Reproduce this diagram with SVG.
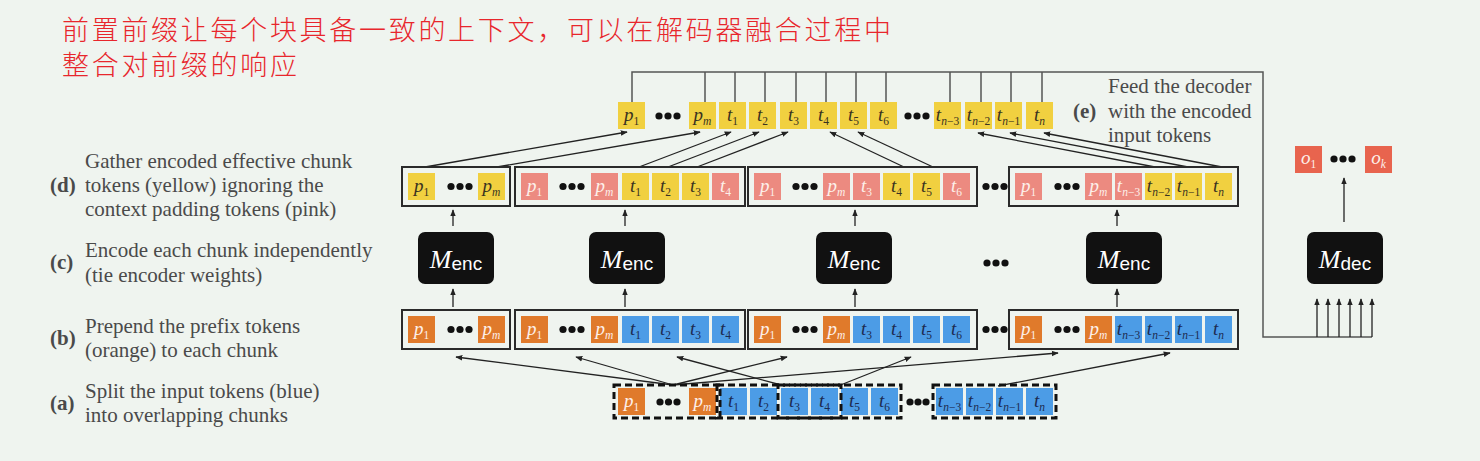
<svg xmlns="http://www.w3.org/2000/svg" width="1480" height="461" viewBox="0 0 1480 461">
<style>
.tk{font-family:"Liberation Serif",serif;font-size:19px;font-style:italic;text-anchor:middle}
.sb{font-size:11.5px;font-style:normal}
.si{font-style:italic}
.dk{fill:#3a3320}.lt{fill:#fdf0ea}.nv{fill:#1c2b50}
.Y{fill:#f1d040}.P{fill:#ec8a80}.O{fill:#e07a2b}.B{fill:#4c9ce6}.R{fill:#e8644e}
.box{fill:none;stroke:#2a2a2a;stroke-width:2}
.enc{fill:#111}
.dot{fill:#111}
.brk{fill:none;stroke:#555;stroke-width:1.5}
.conn{fill:none;stroke:#222;stroke-width:1.3;marker-end:url(#ah)}
.dash{fill:none;stroke:#111;stroke-width:3;stroke-dasharray:7 4}
.lbl{font-family:"Liberation Serif",serif;font-size:21px;fill:#4a4a4a}
.bold{font-weight:bold}
.mt{font-family:"Liberation Serif",serif;font-style:italic;font-size:26px}
.st{font-family:"Liberation Sans",sans-serif;font-size:19px}
.cn{font-family:"Noto Sans CJK SC",sans-serif;font-size:27px;fill:#e8262c;letter-spacing:2.7px;font-weight:300}
</style>
<defs>
<marker id="ah" viewBox="0 0 10 10" refX="9" refY="5" markerWidth="7" markerHeight="7" orient="auto" markerUnits="userSpaceOnUse"><path d="M0,1 L10,5 L0,9 z" fill="#222"/></marker>
</defs>
<rect width="1480" height="461" fill="#eff4ef"/>

<g id="title">
<text class="cn" x="62" y="40">前置前缀让每个块具备一致的上下文，可以在解码器融合过程中</text>
<text class="cn" x="62" y="75">整合对前缀的响应</text>
</g>

<g id="labels">
<text class="lbl" x="85" y="168">Gather encoded effective chunk</text>
<text class="lbl bold" x="50" y="192">(d)</text>
<text class="lbl" x="85" y="192">tokens (yellow) ignoring the</text>
<text class="lbl" x="85" y="216">context padding tokens (pink)</text>
<text class="lbl" x="85" y="257">Encode each chunk independently</text>
<text class="lbl bold" x="50" y="269">(c)</text>
<text class="lbl" x="85" y="282">(tie encoder weights)</text>
<text class="lbl" x="85" y="333">Prepend the prefix tokens</text>
<text class="lbl bold" x="50" y="345">(b)</text>
<text class="lbl" x="85" y="357">(orange) to each chunk</text>
<text class="lbl" x="85" y="398">Split the input tokens (blue)</text>
<text class="lbl bold" x="50" y="410">(a)</text>
<text class="lbl" x="85" y="422">into overlapping chunks</text>
<text class="lbl bold" x="1073" y="118">(e)</text>
<text class="lbl" x="1108" y="93">Feed the decoder</text>
<text class="lbl" x="1108" y="118">with the encoded</text>
<text class="lbl" x="1108" y="142">input tokens</text>
</g>

<g id="connectors">
<path class="brk" d="M632,102 V72 H1263 V337 H1372"/>
<path class="brk" d="M705,72 V102 M735,72 V102 M765,72 V102 M796,72 V102 M826,72 V102 M856,72 V102 M886,72 V102 M950,72 V102 M981,72 V102 M1011,72 V102 M1042,72 V102"/>
<line class="conn" x1="1317" y1="337" x2="1317" y2="299"/>
<line class="conn" x1="1328" y1="337" x2="1328" y2="299"/>
<line class="conn" x1="1339" y1="337" x2="1339" y2="299"/>
<line class="conn" x1="1350" y1="337" x2="1350" y2="299"/>
<line class="conn" x1="1361" y1="337" x2="1361" y2="299"/>
<line class="conn" x1="1372" y1="337" x2="1372" y2="299"/>
<line class="conn" x1="1344" y1="222" x2="1344" y2="178"/>
<line class="conn" x1="425" y1="167" x2="627" y2="132"/>
<line class="conn" x1="497" y1="167" x2="700" y2="132"/>
<line class="conn" x1="639" y1="167" x2="731" y2="132"/>
<line class="conn" x1="668" y1="167" x2="759" y2="132"/>
<line class="conn" x1="697" y1="167" x2="788" y2="132"/>
<line class="conn" x1="904" y1="167" x2="830" y2="132"/>
<line class="conn" x1="933" y1="167" x2="858" y2="132"/>
<line class="conn" x1="1155" y1="167" x2="978" y2="133"/>
<line class="conn" x1="1188" y1="167" x2="1010" y2="133"/>
<line class="conn" x1="1222" y1="167" x2="1044" y2="133"/>
<line class="conn" x1="453" y1="226" x2="453" y2="210"/>
<line class="conn" x1="625" y1="226" x2="625" y2="210"/>
<line class="conn" x1="855" y1="226" x2="855" y2="210"/>
<line class="conn" x1="1117" y1="226" x2="1117" y2="210"/>
<line class="conn" x1="453" y1="307" x2="453" y2="289"/>
<line class="conn" x1="625" y1="307" x2="625" y2="289"/>
<line class="conn" x1="855" y1="307" x2="855" y2="289"/>
<line class="conn" x1="1117" y1="307" x2="1117" y2="289"/>
<line class="conn" x1="673" y1="385" x2="456" y2="357"/>
<line class="conn" x1="673" y1="385" x2="576" y2="357"/>
<line class="conn" x1="673" y1="385" x2="787" y2="357"/>
<line class="conn" x1="673" y1="385" x2="1058" y2="353"/>
<line class="conn" x1="785" y1="386" x2="677" y2="357"/>
<line class="conn" x1="838" y1="386" x2="911" y2="357"/>
<line class="conn" x1="998" y1="386" x2="1170" y2="353"/>
</g>

<g id="top-row">
<rect class="Y" x="618" y="102" width="27" height="27"/><text class="tk dk" x="631.5" y="121">p<tspan class="sb" dy="4">1</tspan></text>
<circle class="dot" cx="659" cy="116" r="3.6"/><circle class="dot" cx="668" cy="116" r="3.6"/><circle class="dot" cx="677" cy="116" r="3.6"/>
<rect class="Y" x="689" y="102" width="27" height="27"/><text class="tk dk" x="702.5" y="121">p<tspan class="sb si" dy="4">m</tspan></text>
<rect class="Y" x="719" y="102" width="27" height="27"/><text class="tk dk" x="732.5" y="121">t<tspan class="sb" dy="4">1</tspan></text>
<rect class="Y" x="749" y="102" width="27" height="27"/><text class="tk dk" x="762.5" y="121">t<tspan class="sb" dy="4">2</tspan></text>
<rect class="Y" x="780" y="102" width="27" height="27"/><text class="tk dk" x="793.5" y="121">t<tspan class="sb" dy="4">3</tspan></text>
<rect class="Y" x="810" y="102" width="27" height="27"/><text class="tk dk" x="823.5" y="121">t<tspan class="sb" dy="4">4</tspan></text>
<rect class="Y" x="840" y="102" width="27" height="27"/><text class="tk dk" x="853.5" y="121">t<tspan class="sb" dy="4">5</tspan></text>
<rect class="Y" x="870" y="102" width="27" height="27"/><text class="tk dk" x="883.5" y="121">t<tspan class="sb" dy="4">6</tspan></text>
<circle class="dot" cx="908" cy="116" r="3.6"/><circle class="dot" cx="917" cy="116" r="3.6"/><circle class="dot" cx="926" cy="116" r="3.6"/>
<rect class="Y" x="934" y="102" width="27" height="27"/><text class="tk dk" x="947.5" y="121">t<tspan class="sb" dy="4"><tspan class="si">n</tspan>−3</tspan></text>
<rect class="Y" x="965" y="102" width="27" height="27"/><text class="tk dk" x="978.5" y="121">t<tspan class="sb" dy="4"><tspan class="si">n</tspan>−2</tspan></text>
<rect class="Y" x="995" y="102" width="27" height="27"/><text class="tk dk" x="1008.5" y="121">t<tspan class="sb" dy="4"><tspan class="si">n</tspan>−1</tspan></text>
<rect class="Y" x="1026" y="102" width="27" height="27"/><text class="tk dk" x="1039.5" y="121">t<tspan class="sb si" dy="4">n</tspan></text>
</g>

<g id="row-d">
<rect class="box" x="402" y="167" width="108" height="39"/>
<rect class="Y" x="408" y="173" width="27" height="27"/><text class="tk dk" x="421.5" y="192">p<tspan class="sb" dy="4">1</tspan></text>
<circle class="dot" cx="451" cy="186.5" r="3.6"/><circle class="dot" cx="460" cy="186.5" r="3.6"/><circle class="dot" cx="469" cy="186.5" r="3.6"/>
<rect class="Y" x="478" y="173" width="27" height="27"/><text class="tk dk" x="491.5" y="192">p<tspan class="sb si" dy="4">m</tspan></text>

<rect class="box" x="515" y="167" width="230" height="39"/>
<rect class="P" x="521" y="173" width="27" height="27"/><text class="tk lt" x="534.5" y="192">p<tspan class="sb" dy="4">1</tspan></text>
<circle class="dot" cx="563" cy="186.5" r="3.6"/><circle class="dot" cx="572" cy="186.5" r="3.6"/><circle class="dot" cx="581" cy="186.5" r="3.6"/>
<rect class="P" x="591" y="173" width="27" height="27"/><text class="tk lt" x="604.5" y="192">p<tspan class="sb si" dy="4">m</tspan></text>
<rect class="Y" x="622" y="173" width="27" height="27"/><text class="tk dk" x="635.5" y="192">t<tspan class="sb" dy="4">1</tspan></text>
<rect class="Y" x="652" y="173" width="27" height="27"/><text class="tk dk" x="665.5" y="192">t<tspan class="sb" dy="4">2</tspan></text>
<rect class="Y" x="682" y="173" width="27" height="27"/><text class="tk dk" x="695.5" y="192">t<tspan class="sb" dy="4">3</tspan></text>
<rect class="P" x="712" y="173" width="27" height="27"/><text class="tk lt" x="725.5" y="192">t<tspan class="sb" dy="4">4</tspan></text>

<rect class="box" x="748" y="167" width="229" height="39"/>
<rect class="P" x="754" y="173" width="27" height="27"/><text class="tk lt" x="767.5" y="192">p<tspan class="sb" dy="4">1</tspan></text>
<circle class="dot" cx="796" cy="186.5" r="3.6"/><circle class="dot" cx="805" cy="186.5" r="3.6"/><circle class="dot" cx="814" cy="186.5" r="3.6"/>
<rect class="P" x="823" y="173" width="27" height="27"/><text class="tk lt" x="836.5" y="192">p<tspan class="sb si" dy="4">m</tspan></text>
<rect class="P" x="853" y="173" width="27" height="27"/><text class="tk lt" x="866.5" y="192">t<tspan class="sb" dy="4">3</tspan></text>
<rect class="Y" x="883" y="173" width="27" height="27"/><text class="tk dk" x="896.5" y="192">t<tspan class="sb" dy="4">4</tspan></text>
<rect class="Y" x="913" y="173" width="27" height="27"/><text class="tk dk" x="926.5" y="192">t<tspan class="sb" dy="4">5</tspan></text>
<rect class="P" x="943" y="173" width="27" height="27"/><text class="tk lt" x="956.5" y="192">t<tspan class="sb" dy="4">6</tspan></text>

<circle class="dot" cx="986" cy="186.5" r="3.6"/><circle class="dot" cx="995" cy="186.5" r="3.6"/><circle class="dot" cx="1004" cy="186.5" r="3.6"/>

<rect class="box" x="1009" y="167" width="229" height="39"/>
<rect class="P" x="1015" y="173" width="27" height="27"/><text class="tk lt" x="1028.5" y="192">p<tspan class="sb" dy="4">1</tspan></text>
<circle class="dot" cx="1058" cy="186.5" r="3.6"/><circle class="dot" cx="1067" cy="186.5" r="3.6"/><circle class="dot" cx="1076" cy="186.5" r="3.6"/>
<rect class="P" x="1085" y="173" width="27" height="27"/><text class="tk lt" x="1098.5" y="192">p<tspan class="sb si" dy="4">m</tspan></text>
<rect class="P" x="1115" y="173" width="27" height="27"/><text class="tk lt" x="1128.5" y="192">t<tspan class="sb" dy="4"><tspan class="si">n</tspan>−3</tspan></text>
<rect class="Y" x="1145" y="173" width="27" height="27"/><text class="tk dk" x="1158.5" y="192">t<tspan class="sb" dy="4"><tspan class="si">n</tspan>−2</tspan></text>
<rect class="Y" x="1175" y="173" width="27" height="27"/><text class="tk dk" x="1188.5" y="192">t<tspan class="sb" dy="4"><tspan class="si">n</tspan>−1</tspan></text>
<rect class="Y" x="1205" y="173" width="27" height="27"/><text class="tk dk" x="1218.5" y="192">t<tspan class="sb si" dy="4">n</tspan></text>
</g>

<g id="encoders">
<rect class="enc" x="418" y="232" width="76" height="52" rx="7"/><text x="456" y="268" text-anchor="middle" fill="#fff"><tspan class="mt">M</tspan><tspan class="st" dy="2">enc</tspan></text>
<rect class="enc" x="589" y="232" width="76" height="52" rx="7"/><text x="627" y="268" text-anchor="middle" fill="#fff"><tspan class="mt">M</tspan><tspan class="st" dy="2">enc</tspan></text>
<rect class="enc" x="816" y="232" width="76" height="52" rx="7"/><text x="854" y="268" text-anchor="middle" fill="#fff"><tspan class="mt">M</tspan><tspan class="st" dy="2">enc</tspan></text>
<circle class="dot" cx="987" cy="263" r="3.6"/><circle class="dot" cx="996" cy="263" r="3.6"/><circle class="dot" cx="1005" cy="263" r="3.6"/>
<rect class="enc" x="1086" y="232" width="76" height="52" rx="7"/><text x="1124" y="268" text-anchor="middle" fill="#fff"><tspan class="mt">M</tspan><tspan class="st" dy="2">enc</tspan></text>
</g>

<g id="decoder">
<rect class="enc" x="1307" y="232" width="76" height="52" rx="7"/><text x="1345" y="268" text-anchor="middle" fill="#fff"><tspan class="mt">M</tspan><tspan class="st" dy="2">dec</tspan></text>
</g>

<g id="outputs">
<rect class="R" x="1295" y="146" width="27" height="27"/><text class="tk lt" x="1308.5" y="164">o<tspan class="sb" dy="4">1</tspan></text>
<circle class="dot" cx="1334" cy="159" r="3.6"/><circle class="dot" cx="1343" cy="159" r="3.6"/><circle class="dot" cx="1352" cy="159" r="3.6"/>
<rect class="R" x="1365" y="146" width="27" height="27"/><text class="tk lt" x="1378.5" y="164">o<tspan class="sb si" dy="4">k</tspan></text>
</g>

<g id="row-b">
<rect class="box" x="402" y="310" width="108" height="39"/>
<rect class="O" x="408" y="316" width="27" height="27"/><text class="tk lt" x="421.5" y="335">p<tspan class="sb" dy="4">1</tspan></text>
<circle class="dot" cx="451" cy="329.5" r="3.6"/><circle class="dot" cx="460" cy="329.5" r="3.6"/><circle class="dot" cx="469" cy="329.5" r="3.6"/>
<rect class="O" x="478" y="316" width="27" height="27"/><text class="tk lt" x="491.5" y="335">p<tspan class="sb si" dy="4">m</tspan></text>

<rect class="box" x="515" y="310" width="230" height="39"/>
<rect class="O" x="521" y="316" width="27" height="27"/><text class="tk lt" x="534.5" y="335">p<tspan class="sb" dy="4">1</tspan></text>
<circle class="dot" cx="563" cy="329.5" r="3.6"/><circle class="dot" cx="572" cy="329.5" r="3.6"/><circle class="dot" cx="581" cy="329.5" r="3.6"/>
<rect class="O" x="591" y="316" width="27" height="27"/><text class="tk lt" x="604.5" y="335">p<tspan class="sb si" dy="4">m</tspan></text>
<rect class="B" x="622" y="316" width="27" height="27"/><text class="tk nv" x="635.5" y="335">t<tspan class="sb" dy="4">1</tspan></text>
<rect class="B" x="652" y="316" width="27" height="27"/><text class="tk nv" x="665.5" y="335">t<tspan class="sb" dy="4">2</tspan></text>
<rect class="B" x="682" y="316" width="27" height="27"/><text class="tk nv" x="695.5" y="335">t<tspan class="sb" dy="4">3</tspan></text>
<rect class="B" x="712" y="316" width="27" height="27"/><text class="tk nv" x="725.5" y="335">t<tspan class="sb" dy="4">4</tspan></text>

<rect class="box" x="748" y="310" width="229" height="39"/>
<rect class="O" x="754" y="316" width="27" height="27"/><text class="tk lt" x="767.5" y="335">p<tspan class="sb" dy="4">1</tspan></text>
<circle class="dot" cx="796" cy="329.5" r="3.6"/><circle class="dot" cx="805" cy="329.5" r="3.6"/><circle class="dot" cx="814" cy="329.5" r="3.6"/>
<rect class="O" x="823" y="316" width="27" height="27"/><text class="tk lt" x="836.5" y="335">p<tspan class="sb si" dy="4">m</tspan></text>
<rect class="B" x="853" y="316" width="27" height="27"/><text class="tk nv" x="866.5" y="335">t<tspan class="sb" dy="4">3</tspan></text>
<rect class="B" x="883" y="316" width="27" height="27"/><text class="tk nv" x="896.5" y="335">t<tspan class="sb" dy="4">4</tspan></text>
<rect class="B" x="913" y="316" width="27" height="27"/><text class="tk nv" x="926.5" y="335">t<tspan class="sb" dy="4">5</tspan></text>
<rect class="B" x="943" y="316" width="27" height="27"/><text class="tk nv" x="956.5" y="335">t<tspan class="sb" dy="4">6</tspan></text>

<circle class="dot" cx="986" cy="329.5" r="3.6"/><circle class="dot" cx="995" cy="329.5" r="3.6"/><circle class="dot" cx="1004" cy="329.5" r="3.6"/>

<rect class="box" x="1009" y="310" width="229" height="39"/>
<rect class="O" x="1015" y="316" width="27" height="27"/><text class="tk lt" x="1028.5" y="335">p<tspan class="sb" dy="4">1</tspan></text>
<circle class="dot" cx="1058" cy="329.5" r="3.6"/><circle class="dot" cx="1067" cy="329.5" r="3.6"/><circle class="dot" cx="1076" cy="329.5" r="3.6"/>
<rect class="O" x="1085" y="316" width="27" height="27"/><text class="tk lt" x="1098.5" y="335">p<tspan class="sb si" dy="4">m</tspan></text>
<rect class="B" x="1115" y="316" width="27" height="27"/><text class="tk nv" x="1128.5" y="335">t<tspan class="sb" dy="4"><tspan class="si">n</tspan>−3</tspan></text>
<rect class="B" x="1145" y="316" width="27" height="27"/><text class="tk nv" x="1158.5" y="335">t<tspan class="sb" dy="4"><tspan class="si">n</tspan>−2</tspan></text>
<rect class="B" x="1175" y="316" width="27" height="27"/><text class="tk nv" x="1188.5" y="335">t<tspan class="sb" dy="4"><tspan class="si">n</tspan>−1</tspan></text>
<rect class="B" x="1205" y="316" width="27" height="27"/><text class="tk nv" x="1218.5" y="335">t<tspan class="sb si" dy="4">n</tspan></text>
</g>

<g id="row-a">
<rect class="O" x="618" y="388" width="27" height="27"/><text class="tk lt" x="631.5" y="407">p<tspan class="sb" dy="4">1</tspan></text>
<circle class="dot" cx="660" cy="402" r="3.6"/><circle class="dot" cx="668.5" cy="402" r="3.6"/><circle class="dot" cx="677" cy="402" r="3.6"/>
<rect class="O" x="689" y="388" width="27" height="27"/><text class="tk lt" x="702.5" y="407">p<tspan class="sb si" dy="4">m</tspan></text>
<rect class="B" x="720" y="388" width="27" height="27"/><text class="tk nv" x="733.5" y="407">t<tspan class="sb" dy="4">1</tspan></text>
<rect class="B" x="750" y="388" width="27" height="27"/><text class="tk nv" x="763.5" y="407">t<tspan class="sb" dy="4">2</tspan></text>
<rect class="B" x="781" y="388" width="27" height="27"/><text class="tk nv" x="794.5" y="407">t<tspan class="sb" dy="4">3</tspan></text>
<rect class="B" x="811" y="388" width="27" height="27"/><text class="tk nv" x="824.5" y="407">t<tspan class="sb" dy="4">4</tspan></text>
<rect class="B" x="841" y="388" width="27" height="27"/><text class="tk nv" x="854.5" y="407">t<tspan class="sb" dy="4">5</tspan></text>
<rect class="B" x="871" y="388" width="27" height="27"/><text class="tk nv" x="884.5" y="407">t<tspan class="sb" dy="4">6</tspan></text>
<circle class="dot" cx="910" cy="402" r="3.6"/><circle class="dot" cx="918" cy="402" r="3.6"/><circle class="dot" cx="926" cy="402" r="3.6"/>
<rect class="B" x="936" y="388" width="27" height="27"/><text class="tk nv" x="949.5" y="407">t<tspan class="sb" dy="4"><tspan class="si">n</tspan>−3</tspan></text>
<rect class="B" x="966" y="388" width="27" height="27"/><text class="tk nv" x="979.5" y="407">t<tspan class="sb" dy="4"><tspan class="si">n</tspan>−2</tspan></text>
<rect class="B" x="996" y="388" width="27" height="27"/><text class="tk nv" x="1009.5" y="407">t<tspan class="sb" dy="4"><tspan class="si">n</tspan>−1</tspan></text>
<rect class="B" x="1026" y="388" width="27" height="27"/><text class="tk nv" x="1039.5" y="407">t<tspan class="sb si" dy="4">n</tspan></text>
<rect class="dash" x="614" y="385" width="106" height="33"/>
<rect class="dash" x="717" y="385" width="124" height="33"/>
<rect class="dash" x="778" y="385" width="123" height="33"/>
<rect class="dash" x="933" y="385" width="123" height="33"/>
</g>
</svg>
